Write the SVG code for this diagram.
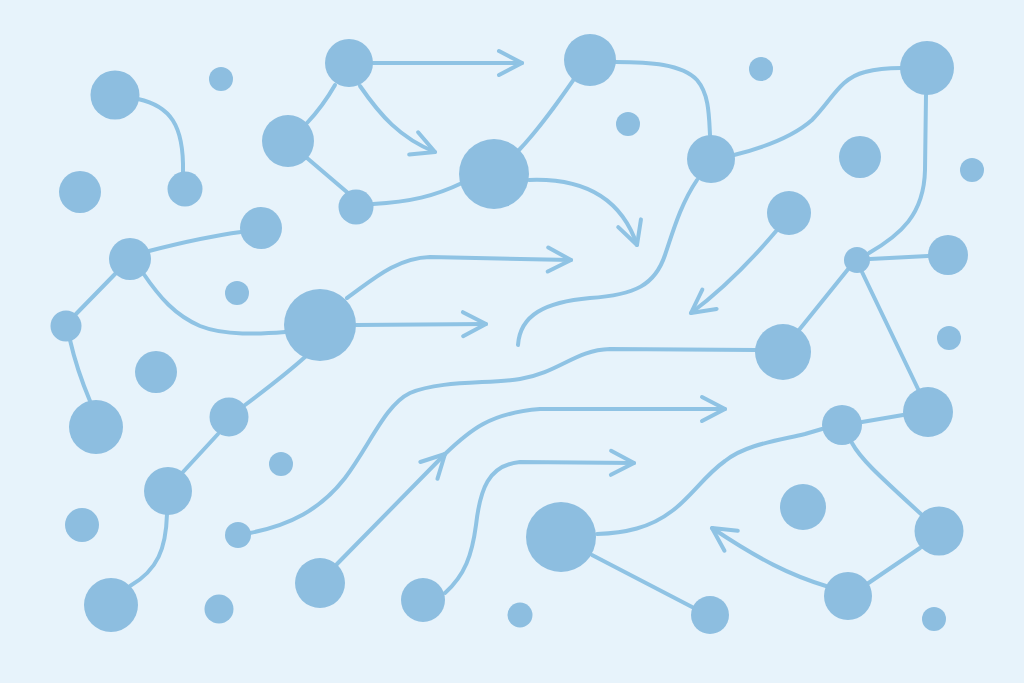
<svg xmlns="http://www.w3.org/2000/svg" width="1024" height="683" viewBox="0 0 1024 683">
<style>
.n{fill:#8dbee0}
.c{fill:none;stroke:#8fc3e4;stroke-width:4;stroke-linecap:round;stroke-linejoin:round}
</style>
<defs>
<marker id="ah" markerUnits="userSpaceOnUse" markerWidth="40" markerHeight="40" refX="0" refY="0" orient="auto" overflow="visible">
<path d="M-23,-12 L0,0 L-23,12" fill="none" stroke="#8fc3e4" stroke-width="4" stroke-linecap="round" stroke-linejoin="round"/>
</marker>
</defs>
<rect width="1024" height="683" fill="#e7f3fb"/>
<g id="connectors">
<path class="c" d="M138,99 C170,106 184,125 183,172"/>
<path class="c" d="M335,85 Q323,106 307,123"/>
<path class="c" d="M373,63 L522,63" marker-end="url(#ah)"/>
<path class="c" d="M360,86 C380,115 400,138 435,152" marker-end="url(#ah)"/>
<path class="c" d="M307,158 L348,193"/>
<path class="c" d="M373,204 C410,202 435,196 462,183"/>
<path class="c" d="M529,180 C580,178 620,195 637,245" marker-end="url(#ah)"/>
<path class="c" d="M519,150 C540,128 558,102 574,79"/>
<path class="c" d="M615,62 C650,62 682,64 697,80 C709,94 709,115 710,135"/>
<path class="c" d="M734,155 C770,146 795,135 812,120 C832,100 840,78 865,72 C880,68 890,68 901,68"/>
<path class="c" d="M697,180 C680,205 672,235 665,255 C655,285 635,295 590,298 C545,302 520,315 518,345"/>
<path class="c" d="M777,230 C750,262 722,290 691,313" marker-end="url(#ah)"/>
<path class="c" d="M926,95 L925,170 C924,215 900,235 869,253"/>
<path class="c" d="M870,259 L928,256"/>
<path class="c" d="M849,268 L799,330"/>
<path class="c" d="M862,272 L919,391"/>
<path class="c" d="M149,251 C180,243 210,236 241,232"/>
<path class="c" d="M116,273 L76,314"/>
<path class="c" d="M143,273 C160,298 175,315 200,326 C225,336 260,334 285,332"/>
<path class="c" d="M356,325 L486,324" marker-end="url(#ah)"/>
<path class="c" d="M347,298 C370,282 395,258 430,257 L571,260" marker-end="url(#ah)"/>
<path class="c" d="M70,340 C75,362 82,382 90,401"/>
<path class="c" d="M305,357 C285,375 265,390 245,405"/>
<path class="c" d="M218,434 L183,472"/>
<path class="c" d="M167,514 C166,548 158,570 130,586"/>
<path class="c" d="M250,533 C290,525 320,510 345,478 C370,445 385,405 410,393 C440,380 490,384 520,379 C560,372 575,350 610,349 L756,350"/>
<path class="c" d="M337,564 L445,454" marker-end="url(#ah)"/>
<path class="c" d="M445,454 C470,430 490,413 540,409 L725,409" marker-end="url(#ah)"/>
<path class="c" d="M445,593 C465,575 472,555 476,525 C480,490 488,465 520,462 L634,463" marker-end="url(#ah)"/>
<path class="c" d="M597,534 C625,533 650,528 672,511 C690,498 705,475 725,461 C745,445 775,441 805,434 L822,429"/>
<path class="c" d="M862,422 L903,415"/>
<path class="c" d="M852,443 C860,458 875,472 922,515"/>
<path class="c" d="M920,548 L867,584"/>
<path class="c" d="M826,586 C790,575 760,560 712,528" marker-end="url(#ah)"/>
<path class="c" d="M592,555 L694,608"/>
</g>
<g id="n1"><circle class="n" cx="115" cy="95" r="24.5"/></g>
<g id="n2"><circle class="n" cx="221" cy="79" r="12"/></g>
<g id="n3"><circle class="n" cx="80" cy="192" r="21"/></g>
<g id="n4"><circle class="n" cx="185" cy="189" r="17.5"/></g>
<g id="n5"><circle class="n" cx="349" cy="63" r="24"/></g>
<g id="n6"><circle class="n" cx="288" cy="141" r="26"/></g>
<g id="n7"><circle class="n" cx="356" cy="207" r="17.5"/></g>
<g id="n8"><circle class="n" cx="494" cy="174" r="35"/></g>
<g id="n9"><circle class="n" cx="261" cy="228" r="21"/></g>
<g id="n10"><circle class="n" cx="130" cy="259" r="21"/></g>
<g id="n11"><circle class="n" cx="237" cy="293" r="12"/></g>
<g id="n12"><circle class="n" cx="66" cy="326" r="15.5"/></g>
<g id="n13"><circle class="n" cx="320" cy="325" r="36"/></g>
<g id="n14"><circle class="n" cx="590" cy="60" r="26"/></g>
<g id="n15"><circle class="n" cx="761" cy="69" r="12"/></g>
<g id="n16"><circle class="n" cx="628" cy="124" r="12"/></g>
<g id="n17"><circle class="n" cx="711" cy="159" r="24"/></g>
<g id="n18"><circle class="n" cx="927" cy="68" r="27"/></g>
<g id="n19"><circle class="n" cx="860" cy="157" r="21"/></g>
<g id="n20"><circle class="n" cx="972" cy="170" r="12"/></g>
<g id="n21"><circle class="n" cx="789" cy="213" r="22"/></g>
<g id="n22"><circle class="n" cx="857" cy="260" r="13"/></g>
<g id="n23"><circle class="n" cx="948" cy="255" r="20"/></g>
<g id="n24"><circle class="n" cx="783" cy="352" r="28"/></g>
<g id="n25"><circle class="n" cx="949" cy="338" r="12"/></g>
<g id="n26"><circle class="n" cx="156" cy="372" r="21"/></g>
<g id="n27"><circle class="n" cx="96" cy="427" r="27"/></g>
<g id="n28"><circle class="n" cx="229" cy="417" r="19.5"/></g>
<g id="n29"><circle class="n" cx="281" cy="464" r="12"/></g>
<g id="n30"><circle class="n" cx="168" cy="491" r="24"/></g>
<g id="n31"><circle class="n" cx="82" cy="525" r="17"/></g>
<g id="n32"><circle class="n" cx="238" cy="535" r="13"/></g>
<g id="n33"><circle class="n" cx="320" cy="583" r="25"/></g>
<g id="n34"><circle class="n" cx="423" cy="600" r="22"/></g>
<g id="n35"><circle class="n" cx="111" cy="605" r="27"/></g>
<g id="n36"><circle class="n" cx="219" cy="609" r="14.5"/></g>
<g id="n37"><circle class="n" cx="520" cy="615" r="12.5"/></g>
<g id="n38"><circle class="n" cx="928" cy="412" r="25"/></g>
<g id="n39"><circle class="n" cx="842" cy="425" r="20"/></g>
<g id="n40"><circle class="n" cx="803" cy="507" r="23"/></g>
<g id="n41"><circle class="n" cx="561" cy="537" r="35"/></g>
<g id="n42"><circle class="n" cx="939" cy="531" r="24.5"/></g>
<g id="n43"><circle class="n" cx="848" cy="596" r="24"/></g>
<g id="n44"><circle class="n" cx="710" cy="615" r="19"/></g>
<g id="n45"><circle class="n" cx="934" cy="619" r="12"/></g>
</svg>
